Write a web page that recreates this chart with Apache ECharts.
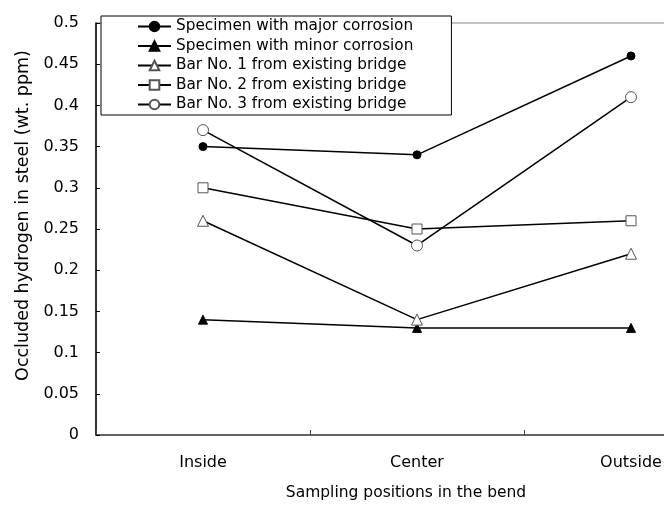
<!DOCTYPE html>
<html>
<head>
<meta charset="utf-8">
<script src="https://cdn.jsdelivr.net/npm/echarts@6/dist/echarts.min.js"></script>
<style>html,body{margin:0;padding:0;background:#fff;overflow:hidden}#wrap{width:664px;height:506px;overflow:hidden;position:relative}#c{width:760px;height:506px}</style>
</head>
<body>
<div id="wrap"><div id="c"></div></div>
<script>
var categories = ['Inside', 'Center', 'Outside'];
var seriesNames = ['Specimen with major corrosion', 'Specimen with minor corrosion', 'Bar No. 1 from existing bridge', 'Bar No. 2 from existing bridge', 'Bar No. 3 from existing bridge'];
var majorCorrosion = [0.35, 0.34, 0.46];
var minorCorrosion = [0.14, 0.13, 0.13];
var bar1 = [0.26, 0.14, 0.22];
var bar2 = [0.30, 0.25, 0.26];
var bar3 = [0.37, 0.23, 0.41];
var xTitle = 'Sampling positions in the bend';
var yTitle = 'Occluded hydrogen in steel (wt. ppm)';

var FONT = 'DejaVu Sans';
function mk(name, data, symbol, size, filled) {
  return {
    type: 'line', name: name, data: data, symbol: symbol, symbolSize: size,
    lineStyle: { color: '#000', width: 1.5 },
    itemStyle: filled ? { color: '#000', borderColor: '#000', borderWidth: 1 }
                      : { color: '#fff', borderColor: '#555', borderWidth: 1 },
    emphasis: { disabled: true },
    animation: false
  };
}
var chart = echarts.init(document.getElementById('c'), null, { renderer: 'canvas' });
chart.setOption({
  backgroundColor: '#fff',
  animation: false,
  textStyle: { fontFamily: FONT, color: '#000' },
  grid: { left: 96, top: 23, width: 642, height: 415, show: true, borderColor: '#888', borderWidth: 1, containLabel: false },
  legend: {
    left: 101, top: 16, orient: 'vertical',
    padding: [3, 38, 3, 36],
    backgroundColor: '#fff', borderColor: '#000', borderWidth: 1,
    itemWidth: 33, itemHeight: 12, itemGap: 4.5, itemTextGap: 4,
    textStyle: { fontFamily: FONT, fontSize: 15.3, color: '#000', lineHeight: 15 },
    data: seriesNames
  },
  xAxis: {
    type: 'category', data: categories, boundaryGap: true,
    axisLine: { lineStyle: { color: '#444', width: 1.5 } },
    axisTick: { show: true, interval: 0, inside: true, length: 5, lineStyle: { color: '#444', width: 1 } },
    axisLabel: { fontFamily: FONT, fontSize: 16, color: '#000', margin: 20 },
    name: xTitle, nameLocation: 'middle', nameGap: 50,
    nameTextStyle: { fontFamily: FONT, fontSize: 15.5, color: '#000', padding: [0, 22, 0, 0] },
    splitLine: { show: false }
  },
  yAxis: {
    type: 'value', min: 0, max: 0.5, interval: 0.05,
    axisLine: { show: true, lineStyle: { color: '#000', width: 1.5 } },
    axisTick: { show: true, inside: true, length: 4, lineStyle: { color: '#000' } },
    axisLabel: { fontFamily: FONT, fontSize: 16, color: '#000', margin: 17 },
    splitLine: { show: false },
    name: yTitle, nameLocation: 'middle', nameGap: 63,
    nameTextStyle: { fontFamily: FONT, fontSize: 17.5, color: '#000', padding: [0, 0, 0, 27] }
  },
  series: [
    mk(seriesNames[0], majorCorrosion, 'circle', 8, true),
    mk(seriesNames[1], minorCorrosion, 'triangle', 9, true),
    mk(seriesNames[2], bar1, 'triangle', 11, false),
    mk(seriesNames[3], bar2, 'rect', 10, false),
    mk(seriesNames[4], bar3, 'circle', 11, false)
  ]
});
</script>
</body>
</html>
